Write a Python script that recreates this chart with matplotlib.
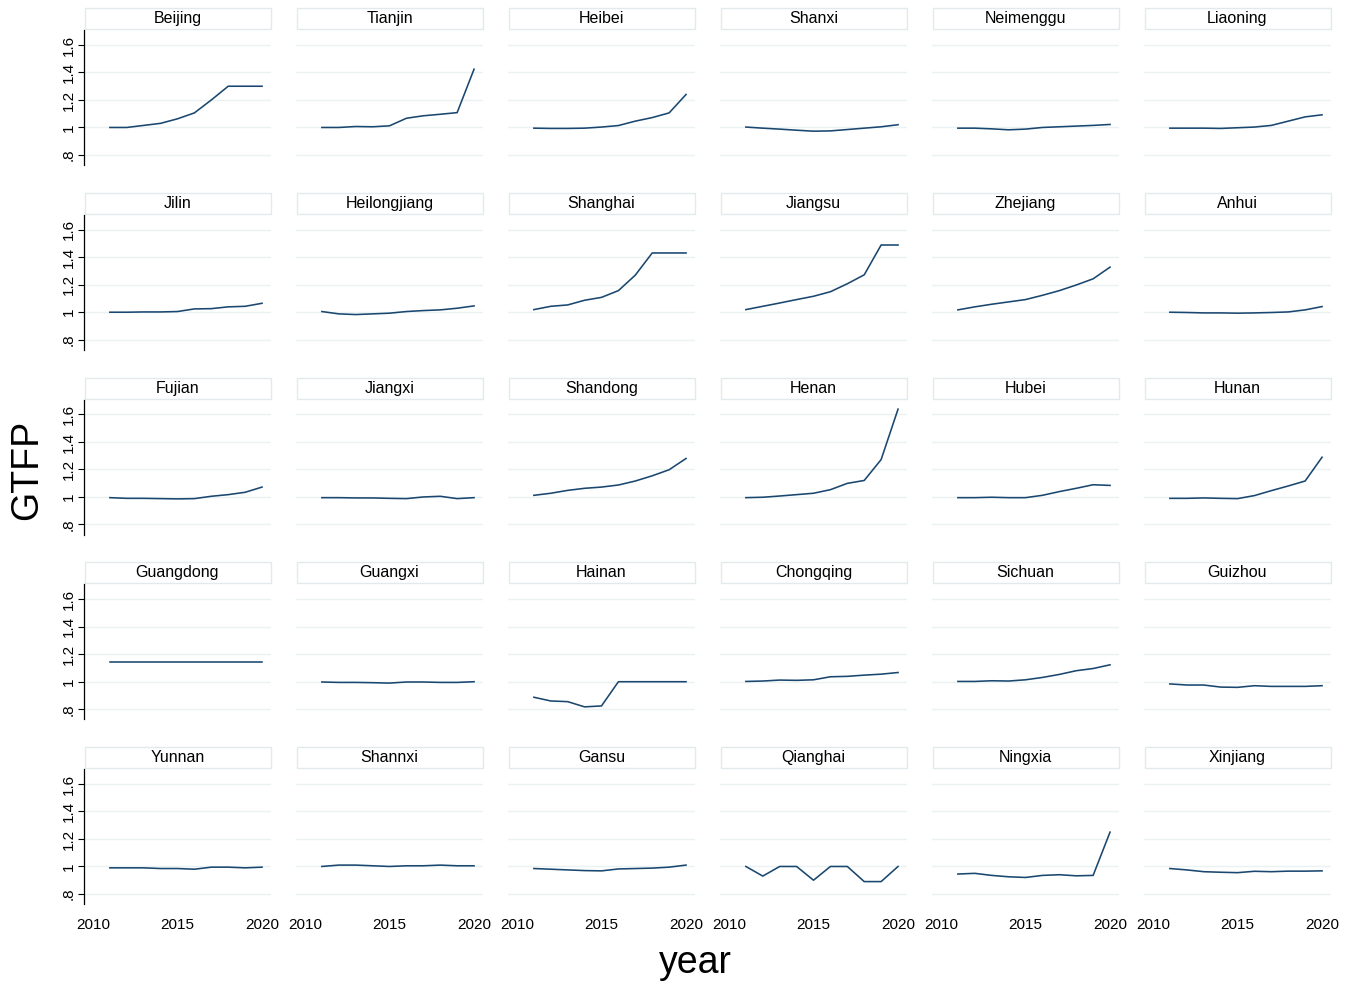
import matplotlib

matplotlib.use("Agg")
import matplotlib.pyplot as plt
from matplotlib.patches import Rectangle

plt.rcParams["font.family"] = ["Liberation Sans", "DejaVu Sans"]

years = [2011, 2012, 2013, 2014, 2015, 2016, 2017, 2018, 2019, 2020]

beijing = [1.000, 1.000, 1.015, 1.030, 1.063, 1.106, 1.200, 1.300, 1.300, 1.300]
tianjin = [1.000, 1.000, 1.007, 1.005, 1.012, 1.067, 1.085, 1.096, 1.108, 1.424]
heibei = [0.995, 0.993, 0.993, 0.995, 1.003, 1.014, 1.046, 1.072, 1.106, 1.240]
shanxi = [1.003, 0.995, 0.988, 0.980, 0.973, 0.975, 0.985, 0.995, 1.005, 1.020]
neimenggu = [0.995, 0.995, 0.990, 0.983, 0.988, 1.000, 1.005, 1.010, 1.015, 1.022]
liaoning = [0.995, 0.995, 0.995, 0.993, 0.998, 1.003, 1.015, 1.046, 1.077, 1.092]

jilin = [1.000, 1.000, 1.002, 1.002, 1.005, 1.024, 1.026, 1.039, 1.043, 1.065]
heilongjiang = [1.005, 0.988, 0.983, 0.988, 0.993, 1.005, 1.012, 1.017, 1.029, 1.046]
shanghai = [1.019, 1.043, 1.053, 1.087, 1.108, 1.157, 1.270, 1.431, 1.431, 1.431]
jiangsu = [1.019, 1.043, 1.067, 1.092, 1.116, 1.149, 1.207, 1.272, 1.489, 1.489]
zhejiang = [1.017, 1.039, 1.058, 1.075, 1.092, 1.123, 1.157, 1.198, 1.243, 1.328]
anhui = [1.000, 0.998, 0.995, 0.995, 0.993, 0.995, 0.998, 1.002, 1.017, 1.041]

fujian = [0.995, 0.990, 0.990, 0.988, 0.986, 0.988, 1.005, 1.017, 1.034, 1.072]
jiangxi = [0.995, 0.995, 0.993, 0.993, 0.990, 0.988, 1.000, 1.005, 0.988, 0.995]
shandong = [1.012, 1.027, 1.048, 1.063, 1.072, 1.087, 1.116, 1.154, 1.198, 1.280]
henan = [0.995, 0.998, 1.007, 1.017, 1.027, 1.053, 1.099, 1.120, 1.272, 1.639]
hubei = [0.995, 0.995, 0.998, 0.995, 0.995, 1.012, 1.039, 1.063, 1.089, 1.084]
hunan = [0.990, 0.990, 0.993, 0.990, 0.988, 1.010, 1.046, 1.080, 1.116, 1.289]

guangdong = [1.147, 1.147, 1.147, 1.147, 1.147, 1.147, 1.147, 1.147, 1.147, 1.147]
guangxi = [0.998, 0.995, 0.995, 0.993, 0.990, 0.998, 0.998, 0.995, 0.995, 1.000]
hainan = [0.887, 0.860, 0.855, 0.817, 0.824, 1.000, 1.000, 1.000, 1.000, 1.000]
chongqing = [1.002, 1.005, 1.012, 1.010, 1.014, 1.036, 1.039, 1.048, 1.055, 1.067]
sichuan = [1.002, 1.002, 1.007, 1.005, 1.014, 1.031, 1.053, 1.080, 1.096, 1.123]
guizhou = [0.984, 0.976, 0.976, 0.961, 0.959, 0.971, 0.966, 0.966, 0.966, 0.971]

yunnan = [0.990, 0.990, 0.990, 0.985, 0.985, 0.980, 0.995, 0.995, 0.990, 0.995]
shannxi = [1.000, 1.010, 1.010, 1.005, 1.000, 1.005, 1.005, 1.010, 1.005, 1.005]
gansu = [0.985, 0.980, 0.975, 0.970, 0.968, 0.982, 0.985, 0.988, 0.995, 1.010]
qianghai = [1.000, 0.930, 1.000, 1.000, 0.900, 1.000, 1.000, 0.890, 0.890, 1.000]
ningxia = [0.945, 0.950, 0.935, 0.925, 0.920, 0.935, 0.940, 0.932, 0.935, 1.250]
xinjiang = [0.985, 0.975, 0.962, 0.958, 0.955, 0.965, 0.962, 0.966, 0.966, 0.968]

panels = [
    ("Beijing", beijing), ("Tianjin", tianjin), ("Heibei", heibei),
    ("Shanxi", shanxi), ("Neimenggu", neimenggu), ("Liaoning", liaoning),
    ("Jilin", jilin), ("Heilongjiang", heilongjiang), ("Shanghai", shanghai),
    ("Jiangsu", jiangsu), ("Zhejiang", zhejiang), ("Anhui", anhui),
    ("Fujian", fujian), ("Jiangxi", jiangxi), ("Shandong", shandong),
    ("Henan", henan), ("Hubei", hubei), ("Hunan", hunan),
    ("Guangdong", guangdong), ("Guangxi", guangxi), ("Hainan", hainan),
    ("Chongqing", chongqing), ("Sichuan", sichuan), ("Guizhou", guizhou),
    ("Yunnan", yunnan), ("Shannxi", shannxi), ("Gansu", gansu),
    ("Qianghai", qianghai), ("Ningxia", ningxia), ("Xinjiang", xinjiang),
]

y_ticks = [0.8, 1.0, 1.2, 1.4, 1.6]
y_ticklabels = [".8", "1", "1.2", "1.4", "1.6"]
x_ticks = [2010, 2015, 2020]

LINE_COL = "#1a476f"
GRID_COL = "#eaf2f3"
BOX_COL = "#e1ebed"

W, H = 1356, 985
fig = plt.figure(figsize=(W / 100, H / 100), dpi=100)

# pixel layout of the panel grid
left0, col_step, pw = 84, 212, 187
top0, row_step, ph = 30, 184.75, 135
strip_h = 21

for i, (name, vals) in enumerate(panels):
    r, c = divmod(i, 6)
    x0 = left0 + c * col_step
    y_top = top0 + r * row_step
    ax = fig.add_axes([x0 / W, 1 - (y_top + ph) / H, pw / W, ph / H])
    ax.plot(years, vals, color=LINE_COL, lw=1.15)
    ax.set_xlim(2009.47, 2020.53)
    ax.set_ylim(0.727, 1.709)
    for yv in y_ticks:
        ax.axhline(yv, color=GRID_COL, lw=1.0, zorder=0)
    for s in ["top", "right", "bottom"]:
        ax.spines[s].set_visible(False)
    ax.set_yticks(y_ticks)
    ax.set_xticks(x_ticks)
    if c == 0:
        ax.spines["left"].set_linewidth(0.9)
        ax.set_yticklabels(y_ticklabels, rotation=90, va="center", fontsize=11)
        ax.tick_params(axis="y", length=4, width=0.8, pad=2)
    else:
        ax.spines["left"].set_visible(False)
        ax.tick_params(axis="y", left=False, labelleft=False)
    if r == 4:
        ax.set_xticklabels([str(t) for t in x_ticks], fontsize=11)
        ax.tick_params(axis="x", length=0, pad=10)
    else:
        ax.tick_params(axis="x", bottom=False, labelbottom=False)

    # strip title box
    ax.add_patch(Rectangle((0.005, 1.0 + 1 / ph), 0.995, strip_h / ph,
                           transform=ax.transAxes, clip_on=False,
                           facecolor="white", edgecolor=BOX_COL, lw=1.0))
    ax.text(0.5, 1.0 + (1 + strip_h / 2) / ph, name, transform=ax.transAxes,
            ha="center", va="center", fontsize=11.5, color="black")

fig.text(27 / W, 1 - 470 / H, "GTFP", rotation=90, ha="center", va="center", fontsize=27)
fig.text(695 / W, 1 - 963 / H, "year", ha="center", va="center", fontsize=27)

fig.savefig("out.png", dpi=100, facecolor="white")
